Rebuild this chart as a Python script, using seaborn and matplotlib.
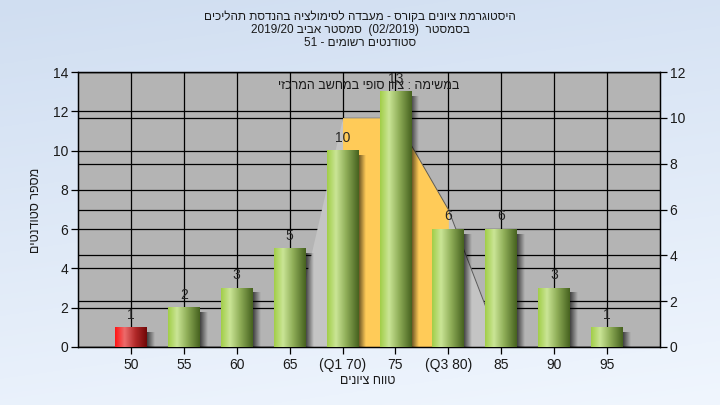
import re
import numpy as np
import pandas as pd
import matplotlib
matplotlib.use("Agg")
import matplotlib.pyplot as plt
import matplotlib.transforms as mtransforms
from matplotlib.colors import to_rgb
import seaborn as sns

# data
grades = ["50", "55", "60", "65", "(Q1 70)", "75", "(Q3 80)", "85", "90", "95"]
counts = [1, 2, 3, 5, 10, 13, 6, 6, 3, 1]
fail_grades = ["50"]
# background area (right axis)
area_grades = ["65", "(Q1 70)", "75", "(Q3 80)", "85"]
area_values = [0, 10, 10, 6, 0]
iqr_grades = ["(Q1 70)", "75", "(Q3 80)"]
iqr_values = [10, 10, 6]
left_ticks = list(range(0, 15, 2))
right_ticks = list(range(0, 13, 2))

title_lines = [
    "היסטוגרמת ציונים בקורס - מעבדה לסימולציה בהנדסת תהליכים",
    "בסמסטר  (02/2019)  סמסטר אביב 2019/20",
    "סטודנטים רשומים - 51",
]
subtitle = "במשימה : ציון סופי במחשב המרכזי"
x_label = "טווח ציונים"
y_label = "מספר סטודנטים"


def visual(s):
    # crude right-to-left reordering for matplotlib (keeps numbers readable)
    r = s[::-1]
    r = re.sub(r"[0-9/]+", lambda m: m.group(0)[::-1], r)
    return r.translate(str.maketrans("()", ")("))


def grad_row(stops, n=80):
    xs = np.linspace(0, 1, n)
    pos = [p for p, _ in stops]
    cols = np.array([to_rgb(c) for _, c in stops])
    row = np.stack([np.interp(xs, pos, cols[:, k]) for k in range(3)], axis=-1)
    return row[None, :, :]


sns.set_theme(style="white")
plt.rcParams['font.family'] = ['Liberation Sans Narrow', 'Liberation Sans', 'DejaVu Sans']

fig = plt.figure(figsize=(7.2, 4.05), dpi=100)

# light blue gradient background
bg = fig.add_axes([0, 0, 1, 1], zorder=-10)
yy, xx = np.mgrid[0:1:200j, 0:1:200j]
t = np.clip(0.8 * yy + 0.2 * xx, 0, 1)
c0, c1 = np.array(to_rgb("#D0DEF1")), np.array(to_rgb("#F0F6FE"))
bg.imshow(c0 + (c1 - c0) * t[..., None], aspect='auto', extent=[0, 1, 0, 1], origin='upper')
bg.axis('off')

ax = fig.add_axes([78 / 720, 58 / 405, 582 / 720, 275 / 405])
ax2 = ax.twinx()
ax2.set_zorder(ax.get_zorder() - 1)
ax.patch.set_visible(False)
ax2.patch.set_visible(True)
ax2.patch.set_facecolor("#B4B4B4")

ax.set_xlim(-1, len(grades))
ax.set_ylim(0, 14)
ax2.set_ylim(0, 12)

# grid lines (under the area)
blend = mtransforms.blended_transform_factory(ax2.transAxes, ax.transData)
for v in left_ticks:
    ax2.plot([0, 1], [v, v], transform=blend, color="black", lw=0.9, zorder=0.5)
for v in right_ticks:
    ax2.axhline(v, color="black", lw=0.9, zorder=0.5)
for i in range(len(grades)):
    ax2.axvline(i, color="black", lw=0.9, zorder=0.5)

# area on the right axis
area_x = [grades.index(g) for g in area_grades]
iqr_x = [grades.index(g) for g in iqr_grades]
ax2.fill_between(area_x, area_values, color="#C4C4C4", lw=0, zorder=1)
ax2.fill_between(iqr_x, iqr_values, color="#FFCB58", lw=0, zorder=1.5)
ax2.plot(area_x[2:], area_values[2:], color="#5A5A5A", lw=0.7, zorder=2)

# bars
df = pd.DataFrame({"grade": grades, "count": counts})
sns.barplot(data=df, x="grade", y="count", order=grades, width=0.6, ax=ax,
            color="#9CC63C", saturation=1)
green = grad_row([(0, "#A2CE48"), (0.28, "#CAE596"), (0.6, "#8FAE58"), (1, "#46621F")])
red = grad_row([(0, "#FF1414"), (0.3, "#EC6C6C"), (0.65, "#B02828"), (1, "#700808")])
shadow = np.zeros((1, 40, 4))
shadow[0, :, 3] = np.linspace(0.65, 0.0, 40)
for i, p in enumerate(ax.patches):
    x0, w, h = p.get_x(), p.get_width(), p.get_height()
    img = red if grades[i] in fail_grades else green
    ax.imshow(shadow, extent=[x0 + w, x0 + w + 0.15, 0, max(h - 0.25, 0)],
              aspect='auto', zorder=2, interpolation='bilinear')
    ax.imshow(img, extent=[x0, x0 + w, 0, h], aspect='auto', zorder=3,
              interpolation='bilinear')
    p.set_visible(False)
    ax.text(i, h + 0.65, str(counts[i]), ha='center', va='center', fontsize=10,
            color="#262626", zorder=4)

ax.set_xlim(-1, len(grades))
ax.set_ylim(0, 14)

ax.set_xticks(range(len(grades)))
ax.set_xticklabels(grades)
ax.set_yticks(left_ticks)
ax2.set_yticks(right_ticks)
ax.set_xlabel("")
ax.set_ylabel("")
ax.tick_params(axis='both', which='both', left=True, bottom=True, direction='out',
               length=5, width=0.9, color="black", labelsize=10, pad=2,
               labelcolor="#1A1A1A")
ax.tick_params(axis='x', pad=3)
ax2.tick_params(axis='y', right=True, direction='out', length=5, width=0.9,
                color="black", labelsize=10, pad=2, labelcolor="#1A1A1A")
for a in (ax, ax2):
    for s in a.spines.values():
        s.set_color("black")
        s.set_linewidth(0.9)

ax.text(0.5, 0.95, visual(subtitle), transform=ax.transAxes, ha='center', va='center',
        fontsize=9, color="#1A1A1A", zorder=5)

for k, line in enumerate(title_lines):
    fig.text(0.5, 1 - (17 + 13 * k) / 405, visual(line), ha='center', va='center',
             fontsize=8.5, color="#1A1A1A")
fig.text(368 / 720, 1 - 381 / 405, visual(x_label), ha='center', va='center',
         fontsize=9, color="#1A1A1A")
fig.text(36 / 720, 1 - 210 / 405, visual(y_label), ha='center', va='center',
         rotation=90, fontsize=9, color="#1A1A1A")

fig.savefig("out.png", dpi=100)
